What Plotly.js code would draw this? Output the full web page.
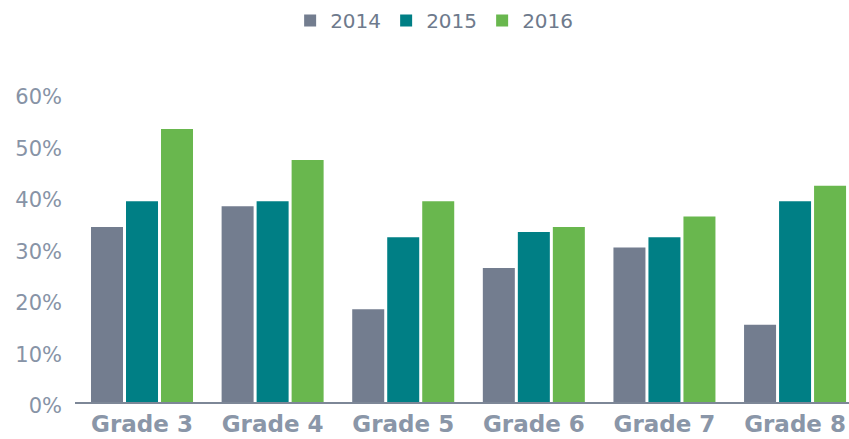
<!DOCTYPE html>
<html>
<head>
<meta charset="utf-8">
<script src="https://cdn.plot.ly/plotly-3.0.1.min.js"></script>
<style>html,body{margin:0;padding:0;background:#fff;}#chart{width:849px;height:439px;}</style>
</head>
<body>
<div id="chart"></div>
<script>
const categories = ["Grade 3", "Grade 4", "Grade 5", "Grade 6", "Grade 7", "Grade 8"];
const seriesNames = ["2014", "2015", "2016"];
const values2014 = [34, 38, 18, 26, 30, 15];
const values2015 = [39, 39, 32, 33, 32, 39];
const values2016 = [53, 47, 39, 34, 36, 42];
const yTicks = [0, 10, 20, 30, 40, 50, 60];

const colors = ["#737d8f", "#007f85", "#69b74e"];
const seriesValues = [values2014, values2015, values2016];

const traces = seriesNames.map((name, i) => ({
  type: "bar",
  name: name,
  x: categories,
  y: seriesValues[i],
  marker: {color: colors[i], line: {width: 0}},
  hoverinfo: "skip"
}));

const layout = {
  width: 849,
  height: 439,
  margin: {l: 75, r: 0, t: 93, b: 37, pad: 0},
  paper_bgcolor: "#ffffff",
  plot_bgcolor: "#ffffff",
  barmode: "group",
  bargap: 0.196,
  bargroupgap: 0.0857,
  font: {family: "'DejaVu Sans', sans-serif", color: "#8793a6"},
  showlegend: true,
  legend: {
    orientation: "h",
    x: 0.464,
    xanchor: "center",
    xref: "paper",
    y: 0.998,
    yanchor: "top",
    yref: "container",
    entrywidth: 51,
    entrywidthmode: "pixels",
    font: {size: 20, color: "#6e7a8c", family: "'DejaVu Sans', sans-serif"},
    traceorder: "normal"
  },
  xaxis: {
    type: "category",
    range: [-0.513, 5.413],
    showline: true,
    linecolor: "#7d8797",
    linewidth: 2,
    showgrid: false,
    zeroline: false,
    ticks: "",
    ticklabelstandoff: 0,
    tickfont: {size: 23, color: "#8a96a8", family: "'DejaVu Sans', sans-serif", weight: "bold"},
    fixedrange: true
  },
  yaxis: {
    range: [0, 60],
    tickvals: yTicks,
    ticktext: yTicks.map(v => v + "%"),
    showline: false,
    showgrid: false,
    zeroline: false,
    ticks: "",
    ticklabelstandoff: 12,
    ticklabelshift: 4,
    tickfont: {size: 21, color: "#8793a6", family: "'DejaVu Sans', sans-serif"},
    fixedrange: true
  }
};

Plotly.newPlot("chart", traces, layout, {displayModeBar: false, staticPlot: true});
</script>
</body>
</html>
